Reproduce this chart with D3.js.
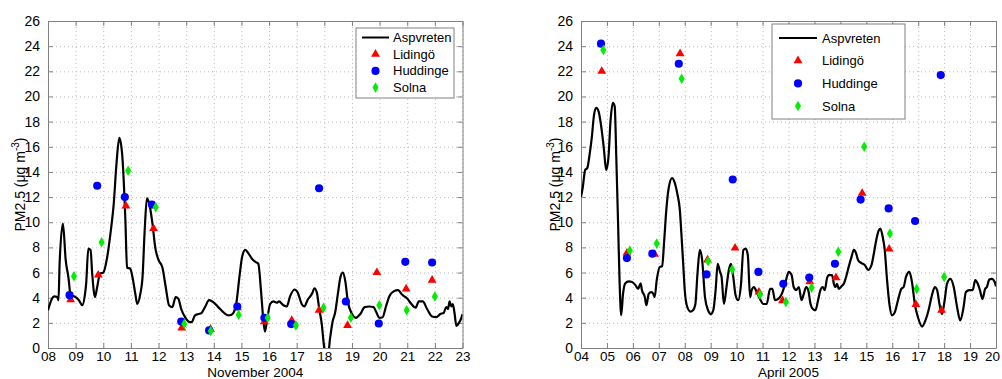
<!DOCTYPE html>
<meta charset="utf-8">
<style>
body { margin: 0; background: #fff; }
text { font-family: "Liberation Sans", Arial, Helvetica, sans-serif; fill: #000; }
.tick text { font-size: 14px; }
.xaxis .tick text { font-size: 13.5px; }
.grid line { stroke: #bcbcbc; stroke-dasharray: 1 3; }
.grid path { display: none; }
.box path, .box line { stroke: #808080; }
.aspv { fill: none; stroke: #000; stroke-width: 2.2px; stroke-linejoin: round; }
</style>
<svg width="1002" height="379"></svg>
<script src="https://d3js.org/d3.v7.min.js"></script>
<script>

// ---- data: [day of month, PM2.5 in ug/m3] ----
var novAspvreten = [[8.0,3.0],[8.14,3.9],[8.22,4.1],[8.34,4.05],[8.38,3.8],[8.42,6.7],[8.54,9.9],[8.64,7.0],[8.74,5.6],[8.82,4.2],
  [9.0,4.05],[9.12,3.8],[9.24,3.4],[9.34,4.3],[9.38,5.1],[9.46,7.9],[9.54,7.8],[9.6,5.9],[9.7,4.05],[9.78,4.85],[9.88,5.9],
  [10.0,6.0],[10.14,7.2],[10.26,9.1],[10.38,11.5],[10.48,14.7],[10.58,16.7],[10.68,15.5],[10.8,10.2],[10.86,6.4],[10.98,6.3],
  [11.06,5.6],[11.16,4.3],[11.23,3.5],[11.34,4.3],[11.42,5.6],[11.5,9.4],[11.58,11.9],[11.66,11.5],[11.78,9.9],[11.88,8.0],
  [12.0,7.0],[12.14,6.4],[12.26,4.85],[12.38,3.4],[12.5,3.25],[12.62,4.05],[12.72,3.9],[12.82,3.1],[12.96,2.45],
  [13.14,2.05],[13.2,2.05],[13.32,2.6],[13.44,2.7],[13.56,2.8],[13.68,3.25],[13.83,3.8],[13.98,3.65],
  [14.16,3.25],[14.34,2.85],[14.52,2.6],[14.64,2.65],[14.79,3.25],[14.94,5.9],[15.02,7.2],[15.14,7.8],[15.26,7.5],
  [15.38,7.1],[15.54,6.8],[15.61,6.7],[15.71,4.5],[15.79,2.3],[15.85,1.3],[15.92,2.1],[16.04,3.5],[16.16,3.7],[16.28,3.6],
  [16.36,3.7],[16.52,3.4],[16.64,3.3],[16.76,4.1],[16.92,4.65],[17.04,4.4],[17.18,3.5],[17.28,3.3],[17.4,3.85],[17.49,4.1],
  [17.57,4.4],[17.64,4.75],[17.73,4.4],[17.81,3.2],[17.91,1.85],[17.97,0.5],[18.1,-1.2],[18.21,0.8],[18.3,2.1],[18.39,2.8],
  [18.49,4.3],[18.58,5.6],[18.67,6.0],[18.76,5.3],[18.85,3.7],[19.0,2.7],[19.14,2.4],[19.3,2.7],[19.46,3.25],[19.63,3.3],
  [19.78,3.25],[19.87,2.9],[19.99,2.4],[20.11,2.45],[20.23,3.3],[20.35,4.1],[20.51,4.5],[20.67,4.6],[20.81,4.25],
  [20.99,3.95],[21.15,3.5],[21.3,3.2],[21.42,3.7],[21.56,3.7],[21.72,3.1],[21.9,2.5],[22.05,2.45],[22.2,2.7],[22.32,2.8],
  [22.41,3.25],[22.48,3.1],[22.53,3.7],[22.6,3.3],[22.65,3.5],[22.71,2.8],[22.78,1.75],[22.87,2.0],[22.96,2.4],[23.0,2.7]];

var novLidingo = [[8.82,3.85],[9.82,5.8],[10.82,11.3],[11.82,9.5],[12.84,1.6],[13.88,1.5],[14.86,3.2],[15.83,2.1],
  [16.82,2.2],[17.81,3.0],[18.84,1.8],[19.9,6.0],[20.96,4.7],[21.9,5.4]];
var novHuddinge = [[8.78,4.2],[9.78,12.9],[10.78,12.0],[11.76,11.4],[12.82,2.1],[13.83,1.4],[14.85,3.3],[15.83,2.4],
  [16.8,1.9],[17.81,12.7],[18.78,3.7],[19.97,1.95],[20.93,6.85],[21.9,6.8]];
var novSolna = [[8.94,5.7],[9.94,8.4],[10.9,14.1],[11.9,11.2],[12.93,1.9],[13.89,1.35],[14.9,2.65],[15.95,2.4],
  [16.97,1.8],[17.97,3.2],[18.96,2.4],[19.99,3.4],[20.98,3.0],[22.0,4.1]];

var aprAspvreten = [[4.0,12.0],[4.07,12.8],[4.16,14.15],[4.24,14.3],[4.33,15.35],[4.42,16.8],[4.5,18.5],[4.59,19.1],
  [4.68,18.8],[4.78,17.6],[4.88,15.9],[4.97,14.15],[5.06,15.2],[5.14,18.1],[5.23,19.5],[5.3,19.2],[5.36,15.2],[5.43,9.9],
  [5.49,5.1],[5.55,2.6],[5.62,4.3],[5.71,5.15],[5.84,5.3],[5.97,5.25],[6.1,5.0],[6.2,4.7],[6.3,5.15],[6.35,4.6],[6.46,4.05],
  [6.52,3.4],[6.61,4.3],[6.71,4.45],[6.79,4.3],[6.84,4.05],[6.92,5.4],[7.04,6.45],[7.13,6.5],[7.2,8.3],[7.29,11.0],
  [7.38,12.7],[7.51,13.5],[7.62,13.1],[7.72,12.2],[7.81,11.0],[7.87,9.1],[7.94,6.7],[8.0,4.6],[8.09,3.3],[8.22,2.9],
  [8.32,3.0],[8.41,3.5],[8.49,5.9],[8.58,7.8],[8.67,7.0],[8.78,4.05],[8.9,3.0],[9.01,2.7],[9.1,3.0],[9.19,4.6],[9.27,6.7],
  [9.36,6.05],[9.42,5.65],[9.51,3.5],[9.61,4.85],[9.7,6.2],[9.78,6.7],[9.87,5.65],[9.96,4.2],[10.06,3.8],[10.17,5.1],
  [10.26,7.8],[10.35,7.9],[10.43,7.4],[10.52,4.05],[10.58,4.6],[10.67,4.85],[10.77,4.45],[10.9,3.9],[11.03,3.5],
  [11.16,3.5],[11.29,4.7],[11.38,4.7],[11.48,3.8],[11.61,3.9],[11.74,4.3],[11.87,5.1],[12.01,6.05],[12.12,5.8],[12.2,4.85],
  [12.3,4.6],[12.4,4.85],[12.5,3.8],[12.59,4.3],[12.68,4.85],[12.76,4.6],[12.85,3.5],[12.94,3.1],[13.04,3.0],[13.14,3.8],
  [13.23,4.6],[13.32,4.85],[13.4,4.6],[13.48,5.5],[13.55,5.8],[13.68,5.8],[13.75,5.1],[13.81,4.85],[13.87,5.1],[13.94,4.7],
  [14.04,4.9],[14.13,5.1],[14.22,5.65],[14.32,6.45],[14.43,7.25],[14.52,7.8],[14.61,7.5],[14.68,7.0],[14.81,6.75],
  [14.94,6.6],[15.07,6.2],[15.2,6.6],[15.29,7.5],[15.38,8.55],[15.48,9.35],[15.54,9.5],[15.63,8.85],[15.71,7.8],[15.8,5.4],
  [15.89,3.5],[15.99,2.6],[16.1,2.85],[16.22,3.8],[16.35,4.7],[16.44,4.85],[16.53,5.65],[16.66,6.05],[16.76,5.25],
  [16.87,3.5],[16.99,2.45],[17.15,1.7],[17.28,2.2],[17.4,3.0],[17.53,4.2],[17.64,4.85],[17.73,4.6],[17.82,3.5],[17.92,2.7],
  [18.02,3.8],[18.11,5.1],[18.24,5.5],[18.37,4.85],[18.5,3.25],[18.62,2.2],[18.75,3.25],[18.84,4.45],[18.97,4.6],[19.1,4.6],
  [19.2,5.4],[19.29,5.15],[19.38,4.6],[19.48,3.9],[19.58,4.7],[19.65,4.85],[19.74,5.45],[19.84,5.5],[19.95,5.25],[20.0,4.9]];

var aprLidingo = [[4.8,22.0],[5.77,7.55],[6.84,7.45],[7.82,23.4],[8.88,7.0],[9.94,7.95],[10.86,4.45],[11.77,3.76],
  [12.82,5.27],[13.83,5.6],[14.84,12.3],[15.88,7.87],[16.91,3.47],[17.9,3.0]];
var aprHuddinge = [[4.77,24.2],[5.77,7.15],[6.75,7.5],[7.77,22.6],[8.84,5.85],[9.85,13.4],[10.84,6.05],[11.8,5.1],
  [12.8,5.6],[13.79,6.7],[14.78,11.8],[15.86,11.1],[16.88,10.1],[17.87,21.7]];
var aprSolna = [[4.86,23.7],[5.88,7.75],[6.92,8.3],[7.88,21.4],[8.9,6.9],[9.83,6.25],[10.9,4.25],[11.9,3.66],
  [12.89,4.8],[13.92,7.65],[14.92,16.0],[15.91,9.1],[16.94,4.7],[18.0,5.64]];

var novTicks = d3.range(8, 24);
var aprTicks = d3.range(4, 21);
var yTicks = d3.range(0, 27, 2);
var stations = ["Aspvreten", "Lidingö", "Huddinge", "Solna"];

var svg = d3.select("svg");

var marker = {
  "Lidingö":  { shape: d3.symbolTriangle, size: 34, color: "#ff0000" },
  "Huddinge": { shape: d3.symbolCircle,   size: 52, color: "#0000ff" },
  "Solna":    { shape: d3.symbolDiamond,  size: 32, color: "#00ee00" }
};

function drawPanel(p) {
  var x = d3.scaleLinear().domain(p.xDomain).range([p.left, p.right]);
  var y = d3.scaleLinear().domain([0, 26]).range([348, 21]);
  var g = svg.append("g");

  // dotted grid
  g.append("g").attr("class", "grid")
      .attr("transform", "translate(0,348)")
      .call(d3.axisBottom(x).tickValues(p.xTicks).tickSize(-327).tickFormat(""));
  g.append("g").attr("class", "grid")
      .attr("transform", "translate(" + p.left + ",0)")
      .call(d3.axisLeft(y).tickValues(yTicks).tickSize(-(p.right - p.left)).tickFormat(""));

  // axes, ticks pointing inward on all four sides
  var bottom = g.append("g").attr("class", "box xaxis")
      .attr("transform", "translate(0,348)")
      .call(d3.axisBottom(x).tickValues(p.xTicks).tickSizeInner(-5).tickSizeOuter(0)
        .tickPadding(3).tickFormat(d3.format("02d")));
  // the last label sits at the page edge in the original, pull it in a little
  bottom.selectAll(".tick:last-of-type text").attr("dx", p.lastDx || 0);
  g.append("g").attr("class", "box")
      .attr("transform", "translate(0,21)")
      .call(d3.axisTop(x).tickValues(p.xTicks).tickSizeInner(-5).tickSizeOuter(0).tickFormat(""));
  g.append("g").attr("class", "box")
      .attr("transform", "translate(" + p.left + ",0)")
      .call(d3.axisLeft(y).tickValues(yTicks).tickSizeInner(-5).tickSizeOuter(0).tickPadding(8));
  g.append("g").attr("class", "box")
      .attr("transform", "translate(" + p.right + ",0)")
      .call(d3.axisRight(y).tickValues(yTicks).tickSizeInner(-5).tickSizeOuter(0).tickFormat(""));

  var clipId = "clip" + p.id;
  svg.append("clipPath").attr("id", clipId)
    .append("rect").attr("x", p.left).attr("y", 21).attr("width", p.right - p.left).attr("height", 327);

  var line = d3.line()
      .x(function(d) { return x(d[0]); })
      .y(function(d) { return y(d[1]); })
      .curve(d3.curveMonotoneX);

  g.append("path").datum(p.line)
      .attr("class", "aspv")
      .attr("clip-path", "url(#" + clipId + ")")
      .attr("d", line);

  [["Lidingö", p.lid], ["Huddinge", p.hud], ["Solna", p.sol]].forEach(function(s) {
    var m = marker[s[0]];
    g.append("g").selectAll("path")
      .data(s[1])
      .enter().append("path")
        .attr("transform", function(d) { return "translate(" + x(d[0]) + "," + y(d[1]) + ")"; })
        .attr("d", d3.symbol().type(m.shape).size(m.size))
        .attr("fill", m.color);
  });

  // axis titles
  var yl = g.append("text")
      .attr("transform", "translate(" + p.yLabelX + ",184.5) rotate(-90)")
      .attr("text-anchor", "middle")
      .style("font-size", "14px");
  yl.append("tspan").text("PM2.5 (μg m");
  yl.append("tspan").attr("dy", -6).style("font-size", "10px").text("-3");
  yl.append("tspan").attr("dy", 6).text(")");

  g.append("text")
      .attr("x", (p.left + p.right) / 2)
      .attr("y", 376.5)
      .attr("text-anchor", "middle")
      .style("font-size", "13.5px")
      .text(p.xLabel);

  // legend
  var L = p.legend;
  var lg = g.append("g");
  lg.append("rect")
      .attr("x", L.x).attr("y", L.y).attr("width", L.w).attr("height", L.h)
      .attr("fill", "#fff").attr("stroke", "#808080");
  stations.forEach(function(name, i) {
    var cy = L.row0 + i * L.step;
    if (i === 0) {
      lg.append("line")
          .attr("x1", L.lineX1).attr("x2", L.lineX2).attr("y1", cy).attr("y2", cy)
          .attr("stroke", "#000").attr("stroke-width", 2);
    } else {
      var m = marker[name];
      lg.append("path")
          .attr("transform", "translate(" + (L.lineX1 + L.lineX2) / 2 + "," + cy + ")")
          .attr("d", d3.symbol().type(m.shape).size(m.size))
          .attr("fill", m.color);
    }
    lg.append("text")
        .attr("x", L.textX).attr("y", cy + 4.5)
        .style("font-size", "13px")
        .text(name);
  });
}

drawPanel({
  id: "nov", left: 48, right: 462.5, xDomain: [8, 23], xTicks: novTicks,
  line: novAspvreten, lid: novLidingo, hud: novHuddinge, sol: novSolna,
  yLabelX: 25, xLabel: "November 2004",
  legend: { x: 356, y: 28, w: 98, h: 70, row0: 37.5, step: 16.7, lineX1: 362, lineX2: 389, textX: 393 }
});

drawPanel({
  id: "apr", left: 581, right: 996, xDomain: [4, 20], xTicks: aprTicks, lastDx: -4,
  line: aprAspvreten, lid: aprLidingo, hud: aprHuddinge, sol: aprSolna,
  yLabelX: 560, xLabel: "April 2005",
  legend: { x: 772, y: 24, w: 133, h: 95, row0: 38, step: 22.7, lineX1: 779, lineX2: 817, textX: 822 }
});

</script>
